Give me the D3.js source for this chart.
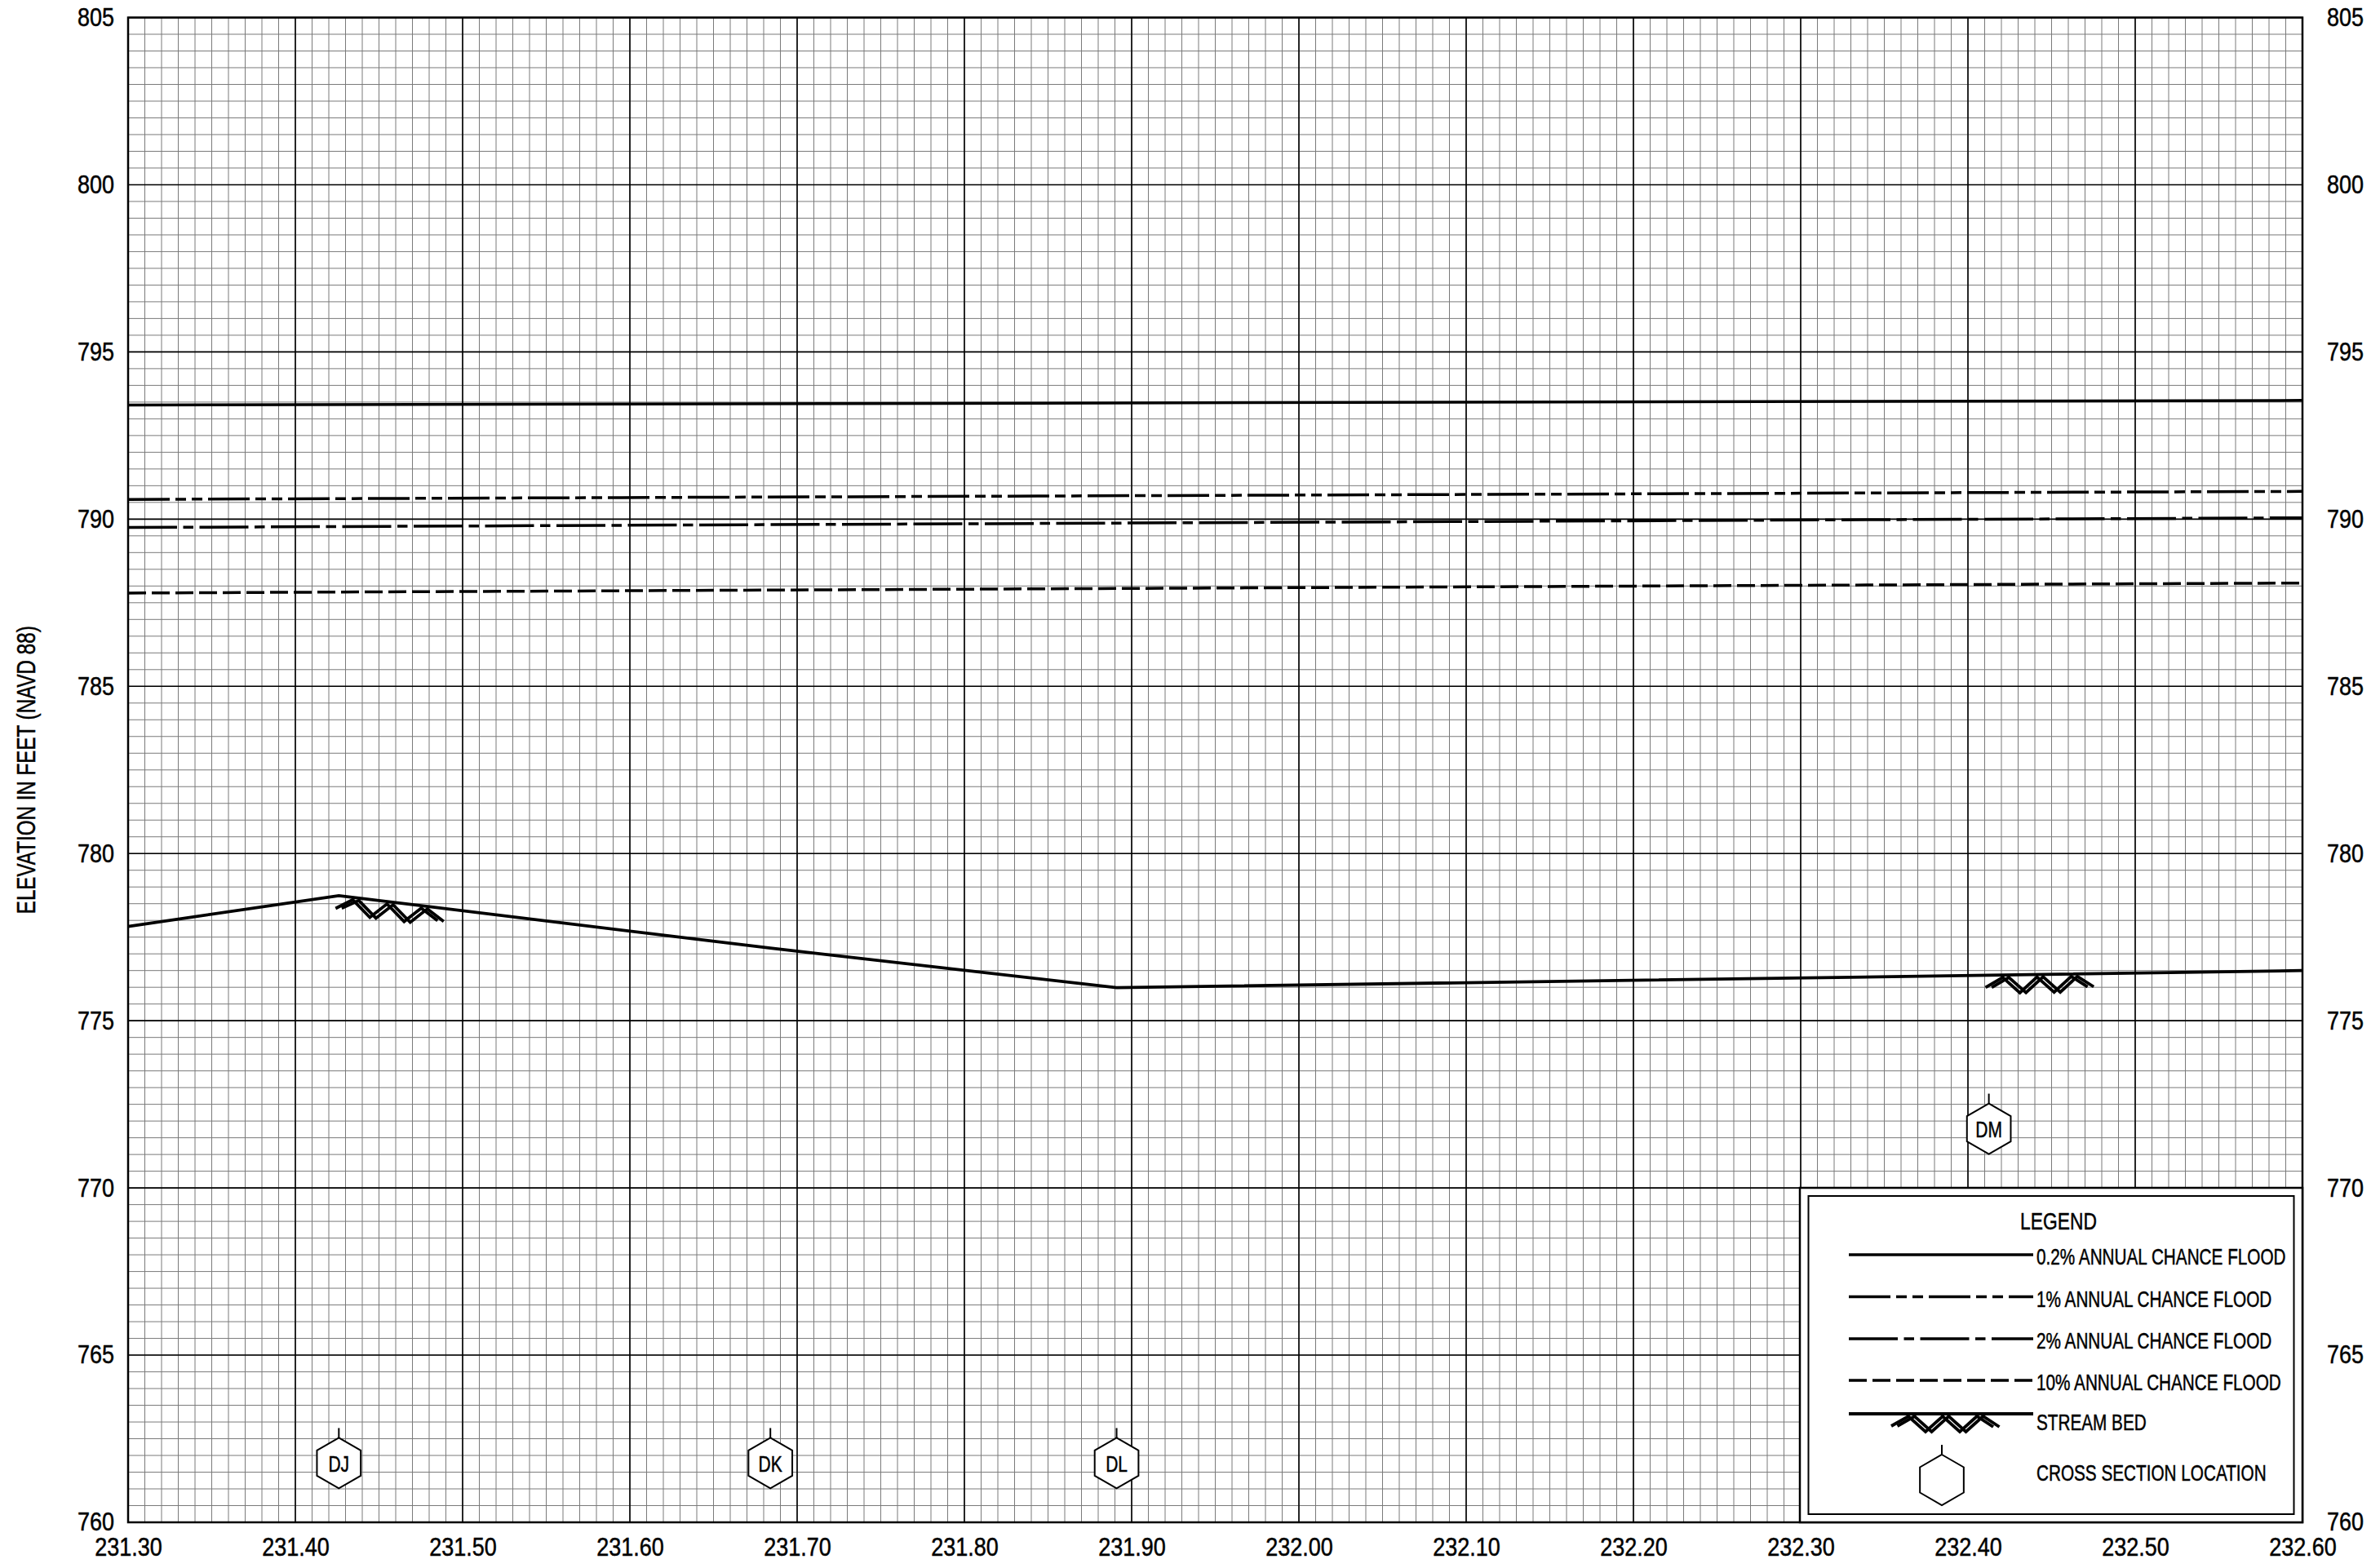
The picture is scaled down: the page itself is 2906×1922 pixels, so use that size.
<!DOCTYPE html>
<html>
<head>
<meta charset="utf-8">
<script src="https://cdn.jsdelivr.net/npm/d3@7"></script>
<style>
html,body{margin:0;padding:0;background:#fff;}
svg{display:block;}
text{font-family:"Liberation Sans",Arial,sans-serif;fill:#000;stroke:#000;stroke-width:0.5px;}
</style>
</head>
<body>
<svg id="chart" width="2906" height="1922"></svg>
<script>
// ---------- DATA ----------
const mileTicks = [231.30,231.40,231.50,231.60,231.70,231.80,231.90,232.00,232.10,232.20,232.30,232.40,232.50,232.60];
const elevTicks = [760,765,770,775,780,785,790,795,800,805];

const floodMiles = [231.30, 232.60];
const flood02 = [793.41, 793.55];
const flood1  = [790.59, 790.83];
const flood2  = [789.75, 790.04];
const flood10 = [787.79, 788.09];

const bedMiles = [231.30, 231.426, 231.684, 231.891, 232.4125, 232.60];
const bedElev  = [777.82, 778.74, 777.17, 775.99, 776.36, 776.50];

const xsNames = ["DJ","DK","DL","DM"];
const xsMiles = [231.426, 231.684, 231.891, 232.4125];
const xsLabelElev = [761.77, 761.77, 761.77, 771.77];

const hatchStartMiles = [231.426, 232.4125];

const legendLabels = ["0.2% ANNUAL CHANCE FLOOD","1% ANNUAL CHANCE FLOOD","2% ANNUAL CHANCE FLOOD","10% ANNUAL CHANCE FLOOD","STREAM BED","CROSS SECTION LOCATION"];

// ---------- LAYOUT ----------
const L = 157, R = 2822, T = 21.5, B = 1866;
const svg = d3.select("#chart");
const x = d3.scaleLinear().domain([231.30, 232.60]).range([L, R]);
const y = d3.scaleLinear().domain([760, 805]).range([B, T]);

function condense(sel, f) {
  sel.each(function() {
    const w = this.getComputedTextLength();
    d3.select(this).attr("textLength", w * f).attr("lengthAdjust", "spacingAndGlyphs");
  });
}

const styles = {
  f02: {w:3.5, dash:null},
  f1:  {w:3.5, dash:"51,7,13,7,13,7"},
  f2:  {w:3.5, dash:"60,7.5,12.5,7.5"},
  f10: {w:3.5, dash:"22,7"}
};

// minor grid
const g = svg.append("g");
const minorX = d3.range(0, 131).map(i => 231.30 + i*0.01);
const minorY = d3.range(0, 91).map(i => 760 + i*0.5);
g.selectAll("line.mx").data(minorX).join("line")
  .attr("x1", d => x(d)).attr("x2", d => x(d)).attr("y1", T).attr("y2", B)
  .attr("stroke", "#7a7a7a").attr("stroke-width", 1);
g.selectAll("line.my").data(minorY).join("line")
  .attr("y1", d => y(d)).attr("y2", d => y(d)).attr("x1", L).attr("x2", R)
  .attr("stroke", "#7a7a7a").attr("stroke-width", 1);
// major grid
g.selectAll("line.Mx").data(mileTicks).join("line")
  .attr("x1", d => x(d)).attr("x2", d => x(d)).attr("y1", T).attr("y2", B)
  .attr("stroke", "#000").attr("stroke-width", 1.6);
g.selectAll("line.My").data(elevTicks).join("line")
  .attr("y1", d => y(d)).attr("y2", d => y(d)).attr("x1", L).attr("x2", R)
  .attr("stroke", "#000").attr("stroke-width", 1.6);
svg.append("rect").attr("x", L).attr("y", T).attr("width", R-L).attr("height", B-T)
  .attr("fill", "none").attr("stroke", "#000").attr("stroke-width", 2.5);

// axes
const fs = 31;
const axL = svg.append("g").attr("transform", `translate(${L},0)`)
  .call(d3.axisLeft(y).tickValues(elevTicks).tickSize(0).tickPadding(17).tickFormat(d3.format("d")));
const axR = svg.append("g").attr("transform", `translate(${R},0)`)
  .call(d3.axisRight(y).tickValues(elevTicks).tickSize(0).tickPadding(30).tickFormat(d3.format("d")));
const axB = svg.append("g").attr("transform", `translate(0,${B})`)
  .call(d3.axisBottom(x).tickValues(mileTicks).tickSize(0).tickPadding(19).tickFormat(d3.format(".2f")));
[axL, axR, axB].forEach(a => {
  a.select(".domain").remove();
  const t = a.selectAll("text").attr("font-size", fs)
    .style("font-family", '"Liberation Sans",Arial,sans-serif').attr("fill", "#000");
  condense(t, 0.87);
});

const ytitle = svg.append("text")
  .attr("transform", `translate(32,${(T+B)/2}) rotate(-90)`)
  .attr("text-anchor", "middle").attr("dy", "0.35em")
  .attr("font-size", 31)
  .text("ELEVATION IN FEET (NAVD 88)");
condense(ytitle, 0.78);

// flood lines
const line = d3.line().x(d => x(d[0])).y(d => y(d[1]));
const floods = [
  {vals: flood02, st: styles.f02},
  {vals: flood1, st: styles.f1},
  {vals: flood2, st: styles.f2},
  {vals: flood10, st: styles.f10}
];
floods.forEach(f => {
  svg.append("path").datum(floodMiles.map((m,i) => [m, f.vals[i]]))
    .attr("d", line).attr("fill", "none").attr("stroke", "#000")
    .attr("stroke-width", f.st.w).attr("stroke-dasharray", f.st.dash);
});

// stream bed
const bedData = bedMiles.map((m,i) => [m, bedElev[i]]);
svg.append("path").datum(bedData).attr("d", line)
  .attr("fill", "none").attr("stroke", "#000").attr("stroke-width", 3.8).attr("stroke-linejoin", "miter");

const bedY = px => {
  const m = x.invert(px);
  for (let i = 0; i < bedMiles.length - 1; i++) {
    if (m >= bedMiles[i] && m <= bedMiles[i+1]) {
      const t = (m - bedMiles[i]) / (bedMiles[i+1] - bedMiles[i]);
      return y(bedElev[i] + t*(bedElev[i+1]-bedElev[i]));
    }
  }
  return y(bedElev[bedElev.length-1]);
};

// hatch zigzag (local offsets)
const zig = [[0,13],[21,1],[42,20],[63,1],[84,20],[105,1],[125,14]];
function drawHatch(parent, x0, yFn) {
  [0, 7.5].forEach(off => {
    const pts = zig.map(p => [x0 + p[0] + off, yFn(x0 + p[0] + off) + p[1] + 2]);
    parent.append("path").attr("d", d3.line()(pts))
      .attr("fill", "none").attr("stroke", "#000").attr("stroke-width", 3.8)
      .attr("stroke-linejoin", "miter");
  });
}
hatchStartMiles.forEach(m => drawHatch(svg, x(m) - 4, bedY));

// cross sections
function hexPath(cx, cy, r) {
  const pts = d3.range(6).map(i => {
    const a = -Math.PI/2 + i*Math.PI/3;
    return [cx + r*Math.cos(a), cy + r*Math.sin(a)];
  });
  return d3.line()(pts) + "Z";
}
function drawXS(parent, cx, cy, label) {
  const r = 31;
  parent.append("line").attr("x1", cx).attr("x2", cx).attr("y1", cy - r - 12).attr("y2", cy - r)
    .attr("stroke", "#000").attr("stroke-width", 2);
  parent.append("path").attr("d", hexPath(cx, cy, r))
    .attr("fill", "#fff").attr("stroke", "#000").attr("stroke-width", 2);
  if (label) {
    const t = parent.append("text").attr("x", cx).attr("y", cy).attr("dy", "0.36em")
      .attr("text-anchor", "middle").attr("font-size", 28).text(label);
    condense(t, 0.75);
  }
}
xsNames.forEach((n,i) => drawXS(svg, x(xsMiles[i]), y(xsLabelElev[i]), n));

// legend
const lg = svg.append("g");
const oL = 2206, oT = 1456;
lg.append("rect").attr("x", oL).attr("y", oT).attr("width", R - oL).attr("height", B - oT)
  .attr("fill", "#fff").attr("stroke", "#000").attr("stroke-width", 2.5);
lg.append("rect").attr("x", oL + 10.5).attr("y", oT + 10).attr("width", R - oL - 21).attr("height", B - oT - 20)
  .attr("fill", "none").attr("stroke", "#000").attr("stroke-width", 2);
const lt = lg.append("text").attr("x", 2523).attr("y", 1496).attr("dy", "0.36em").attr("text-anchor", "middle")
  .attr("font-size", 30).text("LEGEND");
condense(lt, 0.76);
const rowY = [1538, 1589.5, 1641, 1692, 1733, 1805];
const sx0 = 2266, sx1 = 2492, tx = 2496;
[styles.f02, styles.f1, styles.f2, styles.f10].forEach((st, i) => {
  lg.append("line").attr("x1", sx0).attr("x2", sx1).attr("y1", rowY[i]).attr("y2", rowY[i])
    .attr("stroke", "#000").attr("stroke-width", st.w).attr("stroke-dasharray", st.dash);
});
lg.append("line").attr("x1", sx0).attr("x2", sx1).attr("y1", rowY[4]).attr("y2", rowY[4])
  .attr("stroke", "#000").attr("stroke-width", 3.8);
drawHatch(lg, 2318, () => rowY[4]);
drawXS(lg, 2380, 1814, null);
legendLabels.forEach((t, i) => {
  const yy = i === 4 ? 1743 : rowY[i] + (i < 4 ? 2 : 0);
  const tt = lg.append("text").attr("x", tx).attr("y", yy).attr("dy", "0.36em").attr("font-size", 28).text(t);
  condense(tt, 0.74);
});
</script>
</body>
</html>
